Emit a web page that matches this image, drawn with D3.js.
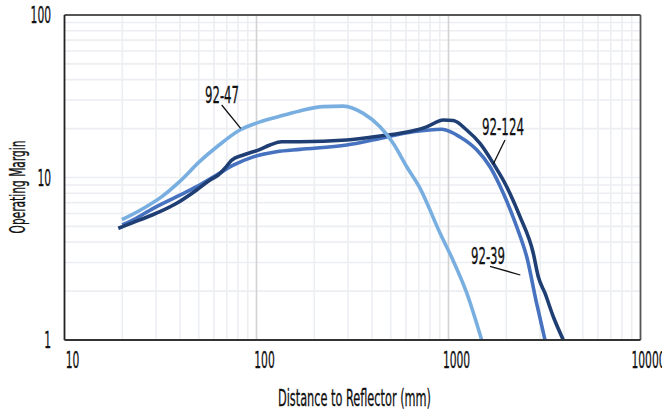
<!DOCTYPE html>
<html>
<head>
<meta charset="utf-8">
<script src="https://cdn.jsdelivr.net/npm/d3@7"></script>
<style>
  html, body { margin: 0; padding: 0; background: #fff; }
  svg { display: block; }
  text { font-family: "Liberation Sans Narrow", "DejaVu Sans Condensed", "Noto Sans", sans-serif; fill: #111; stroke: #111; stroke-width: 0.3px; }
</style>
</head>
<body>
<svg id="chart" width="662" height="418"></svg>
<script>
// ---- data ----
const xTicks = [10, 100, 1000, 10000];
const yTicks = [1, 10, 100];
const seriesNames = ["92-39", "92-124", "92-47"];

const dist39 = [20, 22.8, 29, 38.4, 48.8, 62, 75.7, 96.2, 127, 168.5, 295, 440, 655, 922, 1148, 1402, 1645, 1930, 2265, 2555, 2878, 3181];
const margin39 = [5.1, 5.48, 6.46, 7.62, 8.78, 10.36, 11.9, 13.4, 14.4, 14.9, 15.85, 17.4, 19.1, 19.8, 17.75, 14.8, 11.65, 8.0, 4.98, 3.25, 1.68, 1.0];

const dist124 = [19.06, 24.7, 31.4, 38.4, 48.8, 57.3, 63.2, 68.5, 74.3, 85.4, 92.5, 102.2, 117.5, 135.2, 168.5, 295, 440, 655, 770, 940, 1059, 1244, 1459, 1712, 2010, 2357, 2764, 2936, 3181, 3515, 3963];
const margin124 = [4.87, 5.48, 6.16, 6.94, 8.38, 9.65, 10.36, 11.4, 12.8, 13.75, 14.2, 14.75, 15.85, 16.6, 16.6, 17.0, 18.0, 19.4, 20.5, 22.6, 22.4, 19.6, 16.2, 12.2, 8.78, 5.74, 3.42, 2.45, 1.94, 1.39, 1.0];

const dist47 = [19.9, 25.7, 32, 40, 50.8, 62, 82, 100, 127, 168, 223, 283, 360, 440, 516, 606, 710, 903, 1055, 1244, 1489];
const margin47 = [5.5, 6.45, 7.6, 9.5, 12.6, 15.4, 19.6, 21.6, 23.5, 25.7, 27.3, 27.5, 24.8, 20.5, 16.2, 11.65, 8.6, 4.55, 3.1, 1.95, 1.0];

// ---- layout ----
const svg = d3.select("#chart");
const L = 64.5, R = 640.5, T = 15, B = 340;
const x = d3.scaleLog().domain([10, 10000]).range([L, R]);
const y = d3.scaleLog().domain([1, 100]).range([B, T]);

// fit text to a target width (reference font is a condensed face)
function fit(sel, widthFn) {
  sel.each(function () {
    const txt = d3.select(this).text();
    d3.select(this).attr("textLength", widthFn(txt)).attr("lengthAdjust", "spacingAndGlyphs");
  });
}
const digitW = t => t.length * 6.8;
const FS = 23;

// clip
svg.append("defs").append("clipPath").attr("id", "plot")
  .append("rect").attr("x", L).attr("y", T).attr("width", R - L).attr("height", B - T);

// minor grid
const minorX = [];
[10, 100, 1000].forEach(d => { for (let k = 2; k <= 9; k++) minorX.push(d * k); });
const minorY = [];
[1, 10].forEach(d => { for (let k = 2; k <= 9; k++) minorY.push(d * k); });

const grid = svg.append("g");
grid.selectAll(".mx").data(minorX).enter().append("line")
  .attr("x1", d => x(d)).attr("x2", d => x(d)).attr("y1", T).attr("y2", B)
  .attr("stroke", "#eceef2").attr("stroke-width", 1.6);
grid.selectAll(".my").data(minorY.concat([10])).enter().append("line")
  .attr("y1", d => y(d)).attr("y2", d => y(d)).attr("x1", L).attr("x2", R)
  .attr("stroke", "#eceef2").attr("stroke-width", 1.6);
grid.selectAll(".Mx").data([100, 1000]).enter().append("line")
  .attr("x1", d => x(d)).attr("x2", d => x(d)).attr("y1", T).attr("y2", B)
  .attr("stroke", "#d2d2d2").attr("stroke-width", 1.6);

// series
const series = [
  { name: seriesNames[0], xs: dist39, ys: margin39, color: "#4672c0" },
  { name: seriesNames[1], xs: dist124, ys: margin124, color: "#1f3e73" },
  { name: seriesNames[2], xs: dist47, ys: margin47, color: "#79afe0" }
];
const line = d3.line().x(d => x(d[0])).y(d => y(d[1])).curve(d3.curveMonotoneX);
const lines = svg.append("g").attr("clip-path", "url(#plot)");
series.forEach(s => {
  lines.append("path")
    .datum(s.xs.map((v, i) => [v, s.ys[i]]))
    .attr("d", line)
    .attr("fill", "none")
    .attr("stroke", s.color)
    .attr("stroke-width", 3.6)
    .attr("stroke-linejoin", "round")
    .attr("stroke-linecap", "butt");
});

// frame
svg.append("line").attr("x1", L).attr("x2", R).attr("y1", T).attr("y2", T).attr("stroke", "#555").attr("stroke-width", 1.8);
svg.append("line").attr("x1", R).attr("x2", R).attr("y1", T).attr("y2", B).attr("stroke", "#555").attr("stroke-width", 1.8);
svg.append("line").attr("x1", L).attr("x2", L).attr("y1", T).attr("y2", B).attr("stroke", "#222").attr("stroke-width", 1.8);
svg.append("line").attr("x1", L).attr("x2", R).attr("y1", B).attr("y2", B).attr("stroke", "#333").attr("stroke-width", 2);

// tick labels
svg.append("g").selectAll("text").data(xTicks).enter().append("text")
  .attr("x", d => x(d) + 8).attr("y", 368)
  .attr("text-anchor", "middle").attr("font-size", FS)
  .text(d => d).call(fit, digitW);
svg.append("g").selectAll("text").data(yTicks).enter().append("text")
  .attr("x", 51).attr("y", d => y(d) + 8)
  .attr("text-anchor", "end").attr("font-size", FS)
  .text(d => d).call(fit, digitW);

// axis titles
svg.append("text").attr("x", 354.5).attr("y", 406).attr("text-anchor", "middle")
  .attr("font-size", FS).text("Distance to Reflector (mm)").call(fit, () => 153);
svg.append("text").attr("transform", "translate(25,187) rotate(-90)").attr("text-anchor", "middle")
  .attr("font-size", 22).text("Operating Margin").call(fit, () => 93);

// annotations
const ann = [
  { name: seriesNames[2], tx: 222, ty: 103, w: 34, l: [221.7, 105, 240.7, 128.3] },
  { name: seriesNames[1], tx: 503, ty: 135, w: 42, l: [505, 140, 493.3, 164] },
  { name: seriesNames[0], tx: 488, ty: 264, w: 34, l: [490, 266.3, 520.3, 275] }
];
ann.forEach(a => {
  svg.append("text").attr("x", a.tx).attr("y", a.ty).attr("text-anchor", "middle")
    .attr("font-size", FS).text(a.name).call(fit, () => a.w);
  svg.append("line").attr("x1", a.l[0]).attr("y1", a.l[1]).attr("x2", a.l[2]).attr("y2", a.l[3])
    .attr("stroke", "#111").attr("stroke-width", 1.3);
});
</script>
</body>
</html>
